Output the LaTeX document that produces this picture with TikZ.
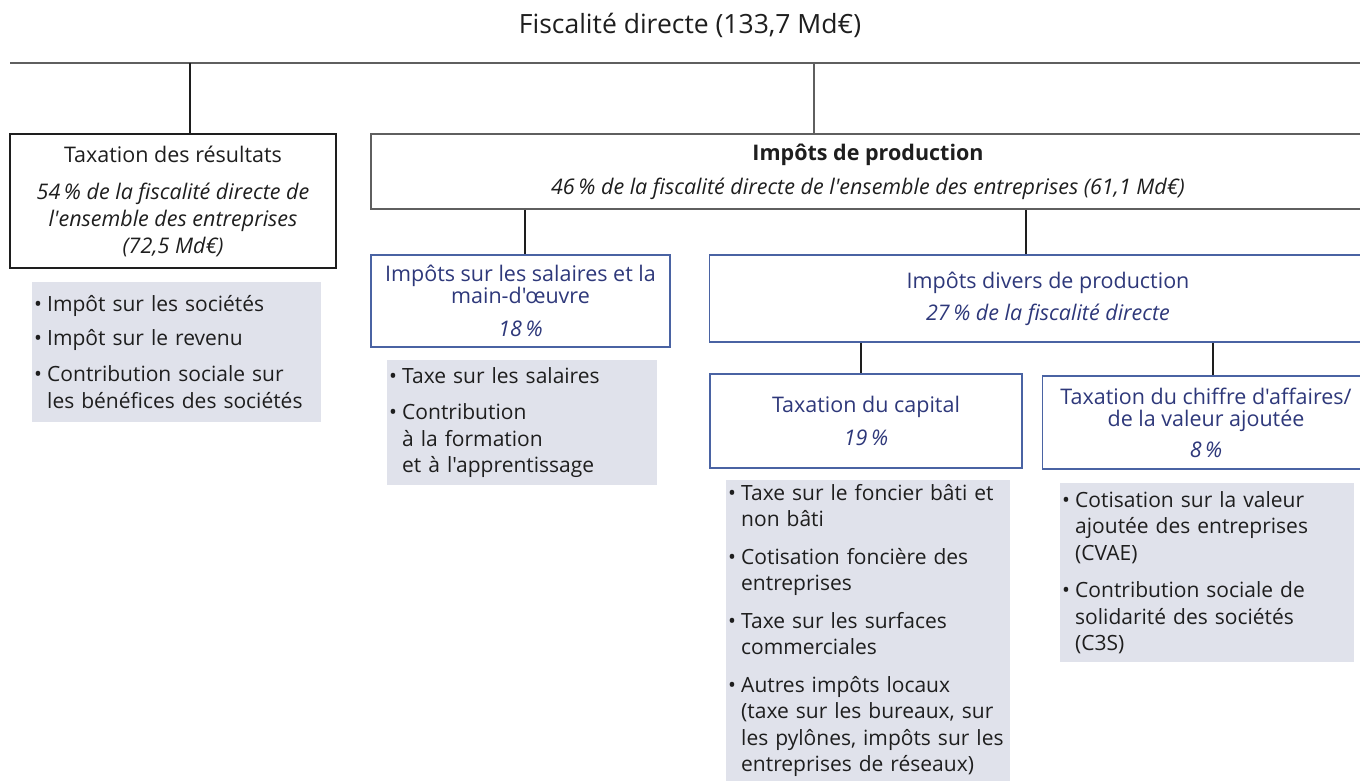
\documentclass[tikz,border=0pt]{standalone}
\usepackage{fontspec}
\newfontfamily\police{Open Sans}
\definecolor{bleu}{RGB}{74,99,163}
\definecolor{bleutxt}{RGB}{46,56,122}
\definecolor{grisfond}{RGB}{224,226,235}
\definecolor{grisfil}{RGB}{95,95,95}
\definecolor{noir}{RGB}{30,30,30}
\newcommand{\taille}[2]{\police\fontsize{#1}{#2}\selectfont}
\newcommand{\puce}{\makebox[13pt][l]{\textbullet}}
\newcommand{\retrait}{\hspace*{13pt}}

\begin{document}
\begin{tikzpicture}[x=1pt,y=-1pt,
    font=\taille{21.5}{22},
    cadre/.style={draw=bleu,line width=1.6pt,text=bleutxt,align=center,inner sep=0pt},
    liste/.style={fill=grisfond,text=noir,align=left,anchor=north west,inner xsep=2pt,inner ysep=0pt,
        font=\taille{21}{26.5}},
    trait/.style={line width=1.6pt}]
    \clip (0,0) rectangle (1360,781);

    \node (titre) [text=noir,font=\taille{26.5}{30}] at (690,25) {Fiscalité directe (133,7 Md€)};
    \coordinate (barreg) at (10,63);
    \coordinate (barred) at (1360,63);
    \draw[trait,grisfil] (barreg) -- (barred);

    \node (res) [cadre,draw=noir,text=noir,minimum width=326,minimum height=134,
        font=\taille{21.5}{27}] at (173,201)
        {Taxation des résultats\\[10pt]\textit{54\,\% de la fiscalité directe de}\\
        \textit{l'ensemble des entreprises}\\\textit{(72,5 Md€)}};
    \node (prod) [cadre,draw=grisfil,text=noir,minimum width=994,minimum height=75] at (868,171.5)
        {\textbf{Impôts de production}\\[12pt]
        \textit{46\,\% de la fiscalité directe de l'ensemble des entreprises (61,1 Md€)}};
    \node (sal) [cadre,minimum width=299,minimum height=92] at (520.5,301)
        {Impôts sur les salaires et la\\main-d'œuvre\\[11pt]\textit{18\,\%}};
    \node (div) [cadre,minimum width=677,minimum height=87] at (1048,298.5)
        {Impôts divers de production\\[10pt]\textit{27\,\% de la fiscalité directe}};
    \node (cap) [cadre,minimum width=312,minimum height=94] at (866,421)
        {Taxation du capital\\[11pt]\textit{19\,\%}};
    \node (ca) [cadre,minimum width=327,minimum height=93] at (1206,422.5)
        {Taxation du chiffre d'affaires/\\de la valeur ajoutée\\[9pt]\textit{8\,\%}};

    \node (l1) [liste,text width=285,minimum height=140] at (32,282)
        {\puce Impôt sur les sociétés\\[7pt]
        \puce Impôt sur le revenu\\[10pt]
        \puce Contribution sociale sur\\
        \retrait les bénéfices des sociétés};
    \node (l2) [liste,text width=266,minimum height=125] at (387,360)
        {\puce Taxe sur les salaires\\[10pt]
        \puce Contribution\\
        \retrait à la formation\\
        \retrait et à l'apprentissage};
    \node (l3) [liste,text width=280,minimum height=301] at (726,480)
        {\puce Taxe sur le foncier bâti et\\
        \retrait non bâti\\[11pt]
        \puce Cotisation foncière des\\
        \retrait entreprises\\[11pt]
        \puce Taxe sur les surfaces\\
        \retrait commerciales\\[11pt]
        \puce Autres impôts locaux\\
        \retrait (taxe sur les bureaux, sur\\
        \retrait les pylônes, impôts sur les\\
        \retrait entreprises de réseaux)};
    \node (l4) [liste,text width=290,minimum height=179] at (1060,483)
        {\puce Cotisation sur la valeur\\
        \retrait ajoutée des entreprises\\
        \retrait (CVAE)\\[11pt]
        \puce Contribution sociale de\\
        \retrait solidarité des sociétés\\
        \retrait (C3S)};

    \coordinate (j1) at (190,63);
    \coordinate (j2) at (814,63);
    \coordinate (j3) at (525,0);
    \coordinate (j4) at (1026,0);
    \coordinate (j5) at (861,0);
    \coordinate (j6) at (1213,0);
    \draw[trait,noir] (j1) -- (j1 |- res.north);
    \draw[trait,grisfil] (j2) -- (j2 |- prod.north);
    \draw[trait,noir] (j3 |- prod.south) -- (j3 |- sal.north);
    \draw[trait,noir] (j4 |- prod.south) -- (j4 |- div.north);
    \draw[trait,noir] (j5 |- div.south) -- (j5 |- cap.north);
    \draw[trait,noir] (j6 |- div.south) -- (j6 |- ca.north);
\end{tikzpicture}
\end{document}
